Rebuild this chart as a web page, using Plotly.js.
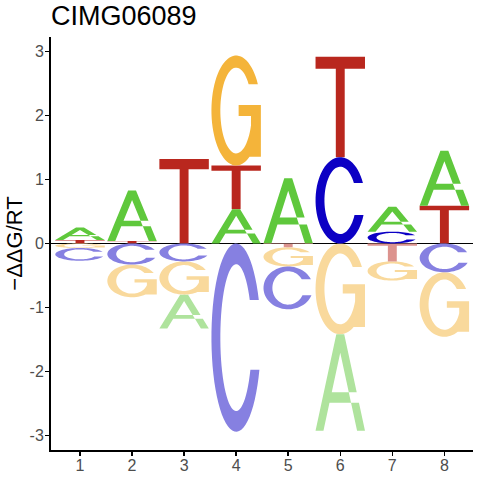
<!DOCTYPE html>
<html><head><meta charset="utf-8">
<script src="https://cdn.plot.ly/plotly-3.0.1.min.js"></script>
<style>html,body{margin:0;padding:0;background:#fff}#chart{width:480px;height:480px}</style>
</head><body><div id="chart"></div>
<script>
// ---------------- data ----------------
const positions = [1, 2, 3, 4, 5, 6, 7, 8];
const xTickLabels = ['1', '2', '3', '4', '5', '6', '7', '8'];
// positive contributions (stacked upward from 0)
const posA = [0.195, 0.79, 0, 0.535, 1.02, 0, 0.39, 0.86];
const posC = [0, 0, 0, 0, 0, 1.35, 0.185, 0];
const posG = [0, 0, 0, 1.72, 0, 0, 0, 0];
const posT = [0.055, 0.04, 1.32, 0.685, 0, 1.57, 0, 0.59];
// negative contributions (magnitudes, stacked downward from 0)
const negA = [0, 0, 0.53, 0, 0, 1.51, 0, 0];
const negC = [0.2, 0.33, 0.28, 2.945, 0.67, 0, 0, 0.45];
const negG = [0.07, 0.51, 0.52, 0, 0.30, 1.42, 0.30, 1.01];
const negT = [0, 0, 0, 0, 0.06, 0, 0.28, 0];
const yTickValues = [-3, -2, -1, 0, 1, 2, 3];
const yTickLabels = ['-3', '-2', '-1', '0', '1', '2', '3'];
const titleText = 'CIMG06089';
const yTitleText = '\u2212\u0394\u0394G/RT';

// ---------------- styles ----------------
const letterColors = {A: '#5FC83C', C: '#0C00C4', G: '#F4B43A', T: '#B9271E'};
const letterColorsNeg = {A: '#AFE39D', C: '#8680E1', G: '#F9D99C', T: '#DC938E'};
const letterWidth = 0.95;
const FONT = 'Liberation Sans, Arial, Helvetica, sans-serif';

// ---------------- glyph outlines (unit box) ----------------
function arc(cx, cy, rx, ry, a0, a1, n) {
  const p = [];
  for (let i = 0; i <= n; i++) {
    const a = a0 + (a1 - a0) * i / n;
    p.push([cx + rx * Math.cos(a), cy + ry * Math.sin(a)]);
  }
  return p;
}
function glyph(letter) {
  if (letter === 'T') {
    return [
      [[0, 0.88], [1, 0.88], [1, 1], [0, 1]],
      [[0.41, 0], [0.59, 0], [0.59, 0.885], [0.41, 0.885]]
    ];
  }
  if (letter === 'A') {
    const lw = 0.16, s = 0.42;
    const yi = (0.5 - lw) / s;
    const c0 = 0.29, c1 = 0.40;
    return [
      [[0, 0], [lw, 0], [0.5, yi], [0.5, 1], [s, 1]],
      [[1, 0], [1 - lw, 0], [0.5, yi], [0.5, 1], [1 - s, 1]],
      [[s * c0, c0], [1 - s * c0, c0], [1 - s * c1, c1], [s * c1, c1]]
    ];
  }
  const orx = 0.5, ory = 0.5, irx = 0.32, iry = 0.39;
  if (letter === 'C') {
    const top = 0.20, bot = 0.17;
    const outer = arc(0.5, 0.5, orx, ory, Math.asin(top / ory), 2 * Math.PI - Math.asin(bot / ory), 60);
    const inner = arc(0.5, 0.5, irx, iry, 2 * Math.PI - Math.asin(bot / iry), Math.asin(top / iry), 60);
    return [outer.concat(inner)];
  }
  if (letter === 'G') {
    const top = 0.24;
    const outer = arc(0.5, 0.5, orx, ory, Math.asin(top / ory), 2 * Math.PI - 1.0, 60);
    const sx = 0.80;
    const phi = Math.acos((sx - 0.5) / irx);
    const inner = arc(0.5, 0.5, irx, iry, 2 * Math.PI - phi, Math.asin(top / iry), 60);
    const mid = [[1, 0.08], [1, 0.55], [0.55, 0.55], [0.55, 0.45], [sx, 0.45]];
    return [outer.concat(mid, inner)];
  }
  return [];
}

// ---------------- build traces ----------------
const posData = {A: posA, C: posC, G: posG, T: posT};
const negData = {A: negA, C: negC, G: negG, T: negT};
const groups = {};
function addGlyph(key, letter, xc, y0, h) {
  if (!groups[key]) groups[key] = {x: [], y: [], letter: letter, neg: key.endsWith('neg')};
  const g = groups[key];
  const x0 = xc - letterWidth / 2;
  glyph(letter).forEach(poly => {
    poly.forEach(([gx, gy]) => { g.x.push(x0 + gx * letterWidth); g.y.push(y0 + gy * h); });
    g.x.push(null); g.y.push(null);
  });
}
positions.forEach((p, i) => {
  const up = Object.keys(posData).map(l => [l, posData[l][i]]).filter(d => d[1] > 0).sort((a, b) => a[1] - b[1]);
  let base = 0;
  up.forEach(([l, h]) => { addGlyph(l + '_pos', l, p, base, h); base += h; });
  const down = Object.keys(negData).map(l => [l, negData[l][i]]).filter(d => d[1] > 0).sort((a, b) => a[1] - b[1]);
  base = 0;
  down.forEach(([l, h]) => { base -= h; addGlyph(l + '_neg', l, p, base, h); });
});
const traces = Object.keys(groups).map(k => {
  const g = groups[k];
  return {
    type: 'scatter', mode: 'none', x: g.x, y: g.y,
    fill: 'toself',
    fillcolor: g.neg ? letterColorsNeg[g.letter] : letterColors[g.letter],
    hoverinfo: 'skip', showlegend: false
  };
});

const layout = {
  width: 480, height: 480,
  margin: {l: 51, r: 7, t: 37, b: 30},
  paper_bgcolor: '#ffffff', plot_bgcolor: '#ffffff',
  showlegend: false,
  font: {family: FONT},
  title: {
    text: titleText,
    font: {family: FONT, size: 27, color: '#000000'},
    xref: 'container', x: 51 / 480, xanchor: 'left',
    yref: 'container', y: 1 - 15.5 / 480, yanchor: 'middle'
  },
  xaxis: {
    range: [0.443, 8.55], tickvals: positions, ticktext: xTickLabels,
    showgrid: false, zeroline: false,
    showline: true, linecolor: '#000', linewidth: 2,
    ticks: 'outside', ticklen: 4, tickwidth: 1.5, tickcolor: '#000',
    ticklabelstandoff: -4,
    tickfont: {family: FONT, size: 16, color: '#4D4D4D'}
  },
  yaxis: {
    range: [-3.23, 3.23], tickvals: yTickValues, ticktext: yTickLabels,
    showgrid: false,
    zeroline: true, zerolinecolor: '#000', zerolinewidth: 1,
    showline: true, linecolor: '#000', linewidth: 2,
    ticks: 'outside', ticklen: 4, tickwidth: 1.5, tickcolor: '#000',
    ticklabelstandoff: -2,
    tickfont: {family: FONT, size: 16, color: '#4D4D4D'},
    title: {text: yTitleText, font: {family: FONT, size: 22, color: '#000'}, standoff: 1}
  }
};
Plotly.newPlot('chart', traces, layout, {staticPlot: true, displayModeBar: false});
</script>
</body></html>
